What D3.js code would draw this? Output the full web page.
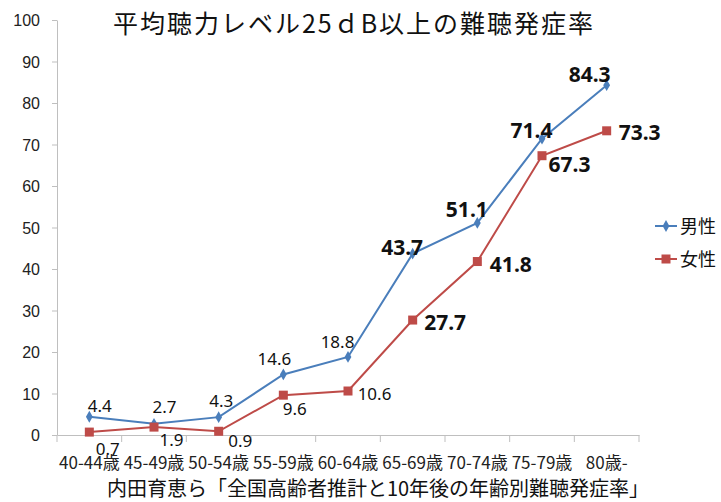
<!DOCTYPE html>
<html><head><meta charset="utf-8">
<script src="https://cdn.jsdelivr.net/npm/d3@7"></script>
<style>
html,body{margin:0;padding:0;background:#fff;}
svg{display:block;font-family:"Noto Sans","Noto Sans CJK JP",sans-serif;}
</style></head>
<body><svg id="c" width="721" height="502"></svg>
<script>
const categories = ["40-44歳","45-49歳","50-54歳","55-59歳","60-64歳","65-69歳","70-74歳","75-79歳","80歳-"];
const maleValues = [4.4, 2.7, 4.3, 14.6, 18.8, 43.7, 51.1, 71.4, 84.3];
const femaleValues = [0.7, 1.9, 0.9, 9.6, 10.6, 27.7, 41.8, 67.3, 73.3];
const yTicks = [0,10,20,30,40,50,60,70,80,90,100];
const seriesNames = ["男性","女性"];
const titleText = "平均聴力レベル25ｄB以上の難聴発症率";
const sourceText = "内田育恵ら「全国高齢者推計と10年後の年齢別難聴発症率」";

// label placement offsets (layout only)
const maleLabelOffsets = [[10.5,-4.7],[10.5,-11],[2.5,-10],[-9,-9],[-10.5,-9],[-10.5,1.4],[-10.5,-6],[-10.5,-1],[-17,-3]];
const femaleLabelOffsets = [[18.5,23],[17.5,19],[21.5,16],[11.5,20],[26.5,9],[32.5,10],[33.5,10.5],[27.5,16],[33,9]];

const svg = d3.select("#c");
const x = d3.scaleBand().domain(categories).range([57, 639]).padding(0);
const y = d3.scaleLinear().domain([0,100]).range([435, 20]);
const axisColor = "#bfbfbf";
const cx = d => x(d) + x.bandwidth()/2;

// Y axis
const yAxis = svg.append("g").attr("transform","translate(57,0)")
  .call(d3.axisLeft(y).tickValues(yTicks).tickSize(5).tickSizeOuter(0).tickPadding(12));
yAxis.select(".domain").attr("stroke",axisColor);
yAxis.selectAll(".tick line").attr("stroke",axisColor);
yAxis.selectAll(".tick text").attr("fill","#222").style("font-size","16px").attr("dy","0.36em");

// X axis
const xAxis = svg.append("g").attr("transform","translate(0,435)")
  .call(d3.axisBottom(x).tickSize(0).tickSizeOuter(0).tickPadding(0));
xAxis.select(".domain").attr("stroke",axisColor);
xAxis.selectAll(".tick text").attr("fill","#222").style("font-size","17px")
  .style("font-family","'Noto Sans CJK JP'").attr("y",34).attr("dy",0);
const bounds = categories.map(c => x(c)).concat([x.range()[1]]);
svg.append("g").selectAll("line").data(bounds).join("line")
  .attr("x1",d=>d).attr("x2",d=>d).attr("y1",435).attr("y2",442)
  .attr("stroke",axisColor);

// Lines
const colors = ["#4a7ebb","#be4b48"];
const line = d3.line().x((d,i)=>cx(categories[i])).y(d=>y(d));
[maleValues, femaleValues].forEach((vals,k)=>{
  svg.append("path").datum(vals).attr("d",line).attr("fill","none")
    .attr("stroke",colors[k]).attr("stroke-width",2);
});
// markers
svg.append("g").selectAll("path").data(maleValues).join("path")
  .attr("transform",(d,i)=>`translate(${cx(categories[i])},${y(d)})`)
  .attr("d",d3.symbol(d3.symbolDiamond,40)()).attr("fill",colors[0]);
svg.append("g").selectAll("rect").data(femaleValues).join("rect")
  .attr("x",(d,i)=>cx(categories[i])-4.5).attr("y",d=>y(d)-4.5)
  .attr("width",9).attr("height",9).attr("fill",colors[1]);

// Data labels
function labels(vals, offs){
  svg.append("g").selectAll("text").data(vals).join("text")
    .attr("x",(d,i)=>cx(categories[i])+offs[i][0])
    .attr("y",(d,i)=>y(d)+offs[i][1])
    .attr("text-anchor","middle")
    .attr("fill","#111")
    .style("font-size",(d,i)=> i>=5 ? "21px":"17px")
    .style("font-weight",(d,i)=> i>=5 ? "bold":"normal")
    .text(d=>d.toFixed(1));
}
labels(maleValues, maleLabelOffsets);
labels(femaleValues, femaleLabelOffsets);

// Legend
const leg = svg.append("g");
seriesNames.forEach((n,k)=>{
  const ly = 226 + k*33;
  leg.append("line").attr("x1",655).attr("x2",677).attr("y1",ly).attr("y2",ly).attr("stroke",colors[k]).attr("stroke-width",2);
  if(k===0) leg.append("path").attr("transform",`translate(666,${ly})`).attr("d",d3.symbol(d3.symbolDiamond,40)()).attr("fill",colors[0]);
  else leg.append("rect").attr("x",661.5).attr("y",ly-4.5).attr("width",9).attr("height",9).attr("fill",colors[1]);
  leg.append("text").attr("x",680).attr("y",ly+7).style("font-size","18px").attr("fill","#111")
    .style("font-family","'Noto Sans CJK JP'").text(n);
});

// Title
svg.append("text").attr("x",354).attr("y",33).attr("text-anchor","middle")
  .style("font-size","25px").style("letter-spacing","2px").style("font-family","'Noto Sans CJK JP'").attr("fill","#111").text(titleText);
// Source
svg.append("text").attr("x",378).attr("y",496).attr("text-anchor","middle")
  .style("font-size","20px").style("font-family","'Noto Sans CJK JP'").attr("fill","#111").text(sourceText);
</script></body></html>
